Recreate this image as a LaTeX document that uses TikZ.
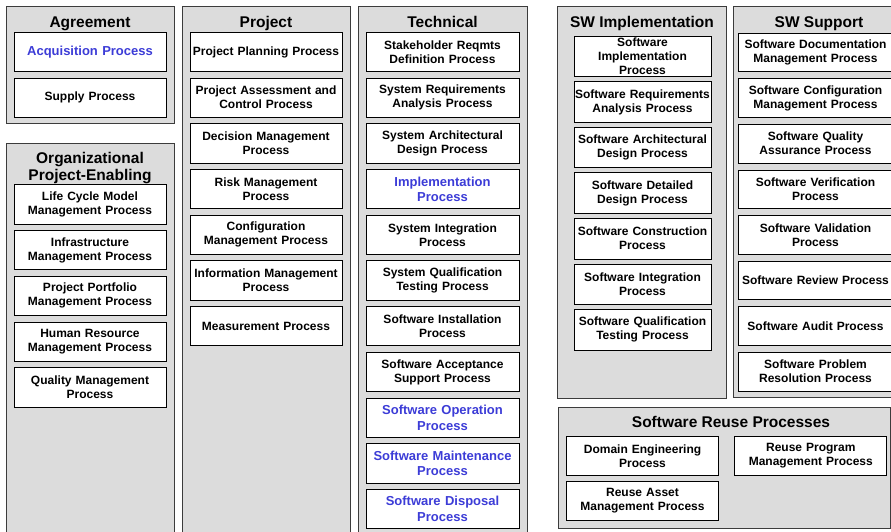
\documentclass[tikz,border=0pt]{standalone}
\usepackage{fontspec}
\setmainfont{Liberation Sans}
\definecolor{panelgray}{RGB}{220,220,220}
\definecolor{paneledge}{RGB}{60,60,60}
\definecolor{procblue}{RGB}{60,60,215}
\tikzset{
  panel/.style={draw=paneledge, fill=panelgray, line width=1pt},
  hdr/.style={anchor=base, inner sep=0pt, font=\bfseries\fontsize{15.5}{17.5}\selectfont},
  pbox/.style={draw=black, fill=white, line width=0.9pt, inner sep=0pt,
    text width=#1, align=center, minimum height=39.3pt,
    font=\bfseries\fontsize{12}{14}\selectfont},
  pbox/.default=152pt,
  swbox/.style={pbox=137pt, minimum height=40.5pt},
  supbox/.style={pbox=155pt, minimum height=38.5pt},
  rbox/.style={pbox=152pt, minimum height=38.3pt},
  bluetext/.style={text=procblue, font=\bfseries\fontsize{13}{15.5}\selectfont},
}
\begin{document}
\begin{tikzpicture}[x=1pt,y=-1pt]
\useasboundingbox (0,0) rectangle (891,531);
\clip (0,0) rectangle (891,531);

% panels
\path[panel] (6,6) rectangle (174,123.3);
\path[panel] (6,143.3) rectangle (174,545);
\path[panel] (182,6) rectangle (350.5,545);
\path[panel] (358.3,6) rectangle (527,545);
\path[panel] (557.5,6) rectangle (726,398);
\path[panel] (733,6) rectangle (905,397);
\path[panel] (558,407) rectangle (890,528.3);

% Agreement
\node[hdr] (hagr) at (90,27) {Agreement};
\node[pbox, bluetext] (acq) at (90,52) {Acquisition Process};
\node[pbox] (sup) at (90,97.8) {Supply Process};

% Organizational Project-Enabling
\node[inner sep=0pt, align=center, font=\bfseries\fontsize{15.5}{17.5}\selectfont] (horg) at (90,168) {Organizational\\Project-Enabling};
\node[pbox] (o1) at (90,204.5) {Life Cycle Model\\Management Process};
\node[pbox] (o2) at (90,250.2) {Infrastructure\\Management Process};
\node[pbox] (o3) at (90,295.9) {Project Portfolio\\Management Process};
\node[pbox] (o4) at (90,341.6) {Human Resource\\Management Process};
\node[pbox] (o5) at (90,387.3) {Quality Management\\Process};

% Project
\node[hdr] (hprj) at (266,27) {Project};
\node[pbox] (p1) at (266,52) {Project Planning Process};
\node[pbox] (p2) at (266,97.7) {Project Assessment and\\Control Process};
\node[pbox] (p3) at (266,143.4) {Decision Management\\Process};
\node[pbox] (p4) at (266,189.1) {Risk Management\\Process};
\node[pbox] (p5) at (266,234.8) {Configuration\\Management Process};
\node[pbox] (p6) at (266,280.5) {Information Management\\Process};
\node[pbox] (p7) at (266,326.2) {Measurement Process};

% Technical
\node[hdr] (htec) at (442.5,27) {Technical};
\node[pbox=153pt] (t1) at (442.5,52) {Stakeholder Reqmts\\Definition Process};
\node[pbox=153pt] (t2) at (442.5,97.7) {System Requirements\\Analysis Process};
\node[pbox=153pt] (t3) at (442.5,143.4) {System Architectural\\Design Process};
\node[pbox=153pt, bluetext] (t4) at (442.5,189.1) {Implementation\\Process};
\node[pbox=153pt] (t5) at (442.5,234.8) {System Integration\\Process};
\node[pbox=153pt] (t6) at (442.5,280.5) {System Qualification\\Testing Process};
\node[pbox=153pt] (t7) at (442.5,326.2) {Software Installation\\Process};
\node[pbox=153pt] (t8) at (442.5,371.9) {Software Acceptance\\Support Process};
\node[pbox=153pt, bluetext] (t9) at (442.5,417.6) {Software Operation\\Process};
\node[pbox=153pt, bluetext] (t10) at (442.5,463.3) {Software Maintenance\\Process};
\node[pbox=153pt, bluetext] (t11) at (442.5,509) {Software Disposal\\Process};

% SW Implementation
\node[hdr] (himp) at (642,27) {SW Implementation};
\node[swbox] (i1) at (642.5,56.3) {Software\\Implementation\\Process};
\node[swbox] (i2) at (642.5,101.9) {Software Requirements\\Analysis Process};
\node[swbox] (i3) at (642.5,147.5) {Software Architectural\\Design Process};
\node[swbox] (i4) at (642.5,193.1) {Software Detailed\\Design Process};
\node[swbox] (i5) at (642.5,238.7) {Software Construction\\Process};
\node[swbox] (i6) at (642.5,284.3) {Software Integration\\Process};
\node[swbox] (i7) at (642.5,329.9) {Software Qualification\\Testing Process};

% SW Support
\node[hdr] (hsup) at (819,27) {SW Support};
\node[supbox] (s1) at (815.5,52.5) {Software Documentation\\Management Process};
\node[supbox] (s2) at (815.5,98.1) {Software Configuration\\Management Process};
\node[supbox] (s3) at (815.5,143.7) {Software Quality\\Assurance Process};
\node[supbox] (s4) at (815.5,189.3) {Software Verification\\Process};
\node[supbox] (s5) at (815.5,234.9) {Software Validation\\Process};
\node[supbox] (s6) at (815.5,280.5) {Software Review Process};
\node[supbox] (s7) at (815.5,326.1) {Software Audit Process};
\node[supbox] (s8) at (815.5,371.7) {Software Problem\\Resolution Process};

% Software Reuse Processes
\node[hdr] (hreu) at (731,427.5) {Software Reuse Processes};
\node[rbox] (r1) at (642.5,455.8) {Domain Engineering\\Process};
\node[rbox] (r2) at (810.8,455.8) {Reuse Program\\Management Process};
\node[rbox] (r3) at (642.5,500.8) {Reuse Asset\\Management Process};
\end{tikzpicture}
\end{document}
